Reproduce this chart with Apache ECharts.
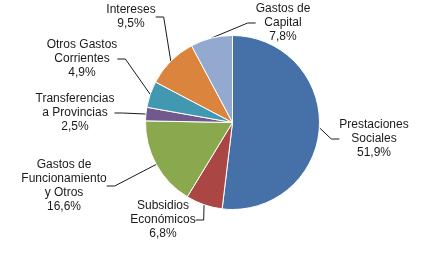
<!DOCTYPE html>
<html><head><meta charset="utf-8">
<script src="https://cdn.jsdelivr.net/npm/echarts@6/dist/echarts.min.js"></script>
<style>html,body{margin:0;padding:0;background:#fff}#c{width:441px;height:253px}</style>
</head><body><div id="c"></div>
<script>
var categories = ["Prestaciones\nSociales", "Subsidios\nEconómicos", "Gastos de\nFuncionamiento\ny Otros", "Transferencias\na Provincias", "Otros Gastos\nCorrientes", "Intereses", "Gastos de\nCapital"];
var values = [51.9, 6.8, 16.6, 2.5, 4.9, 9.5, 7.8];
var valueLabels = ["51,9%", "6,8%", "16,6%", "2,5%", "4,9%", "9,5%", "7,8%"];
var colors = ["#4571A8", "#AA4644", "#8AA84E", "#71588F", "#4298B0", "#DB843D", "#93A9CF"];

// label anchor positions (center x, top y) per slice
var labelPos = [
  {x: 374, y: 118},
  {x: 163, y: 199},
  {x: 64, y: 158},
  {x: 75, y: 92},
  {x: 82, y: 38},
  {x: 131, y: 3},
  {x: 283, y: 2}
];

var chart = echarts.init(document.getElementById('c'), null, {renderer: 'canvas'});
chart.setOption({
  animation: false,
  backgroundColor: '#fff',
  series: [{
    type: 'pie',
    center: [232.5, 122.5],
    radius: [0, 87],
    startAngle: 90,
    clockwise: true,
    avoidLabelOverlap: false,
    itemStyle: {borderColor: '#fff', borderWidth: 1},
    label: {
      show: true,
      color: '#1a1a1a',
      fontFamily: 'Liberation Sans, Arial, sans-serif',
      fontSize: 12,
      lineHeight: 14,
      align: 'center',
      formatter: function (p) { return categories[p.dataIndex] + '\n' + valueLabels[p.dataIndex]; }
    },
    labelLine: {show: true, lineStyle: {color: '#1a1a1a', width: 1}, length: 8, length2: 8},
    labelLayout: function (params) {
      var p = labelPos[params.dataIndex];
      return {x: p.x, y: p.y, align: 'center', verticalAlign: 'top'};
    },
    data: values.map(function (v, i) {
      return {value: v, name: categories[i], itemStyle: {color: colors[i]}};
    })
  }]
});
</script></body></html>
